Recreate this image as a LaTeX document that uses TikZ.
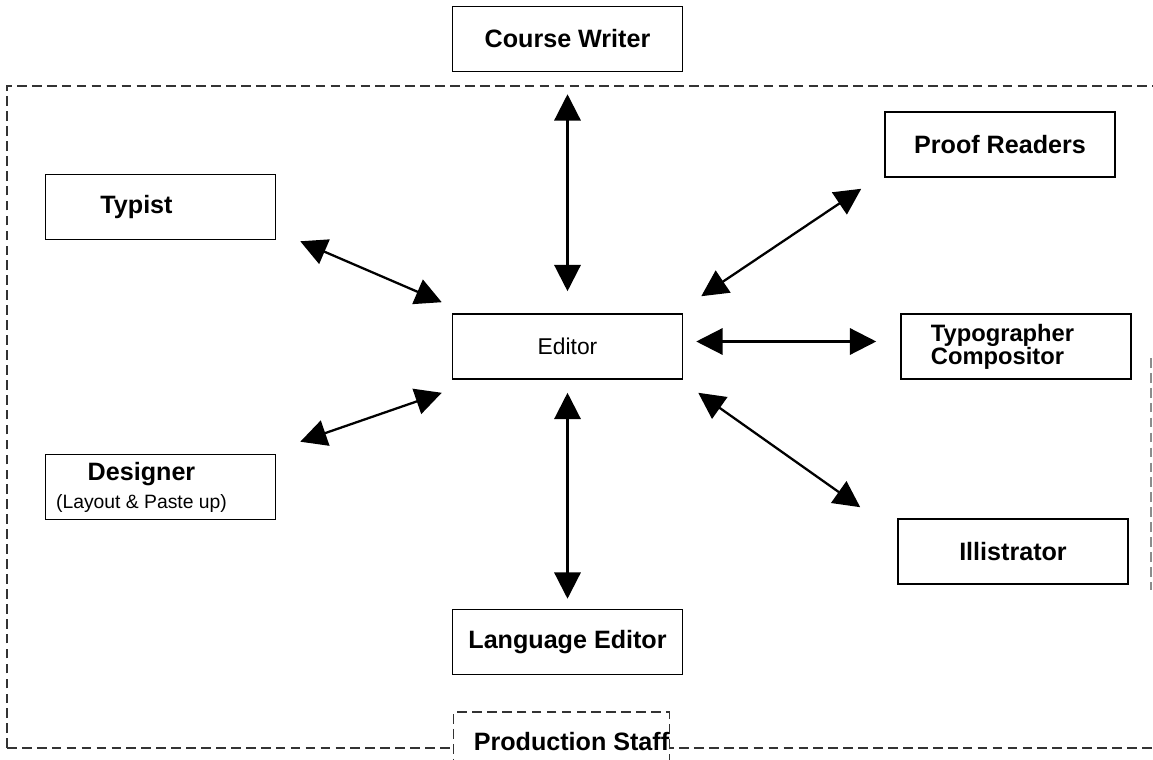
\documentclass[tikz,border=0pt]{standalone}
\usepackage{fontspec}
\setmainfont{Liberation Sans}
\usepackage{tikz}
\usetikzlibrary{positioning}
\usetikzlibrary{arrows.meta, calc}

\begin{document}
\begin{tikzpicture}[x=0.02cm,y=-0.02cm,
    box/.style = {draw, line width=0.9pt, minimum width=4.6cm, minimum height=1.3cm, font=\bfseries\fontsize{14.3}{15}\selectfont},
    arr/.style = {{Triangle[length=15pt,width=15pt]}-{Triangle[length=15pt,width=15pt]}, line width=1.3pt},
    frame/.style = {draw=black!80, dash pattern=on 5.5pt off 3pt, line width=0.6pt},
    node distance=2cm and 4cm]
        \useasboundingbox (0,0) rectangle (1153,760);
        % dashed frame of the production staff
        \draw[frame] (7,748) -- (7,86) -- (1153,86);
        \draw[frame] (7,748) -- (1153,748);
        \draw[frame, draw=black!45] (1151,358) -- (1151,590);
        \node[box, font=\fontsize{13}{15}\selectfont] (editor) at (567.5,346.5) {Editor};
        \node[box, above=4.82cm of editor] (cw) {Course Writer};
        \node[box, below=4.58cm of editor] (lang) {Language Editor};
        \node[box, right=4.34cm of editor, align=left, font=\bfseries\fontsize{13.5}{13}\selectfont] (typo) {Typographer\hspace*{0.54cm}\\Compositor};
        \node[box] (proof) at (1000,144.5) {Proof Readers};
        \node[box] (illus) at (1013,551.5) {Illistrator};
        \node[box] (typist) at (160.5,207) {Typist\hspace*{0.96cm}};
        \node[box, align=center] (designer) at (160.5,487) {Designer\hspace*{0.76cm}\\[1pt]{\mdseries\fontsize{11}{12}\selectfont (Layout \& Paste up)}\hspace*{0.76cm}};
        \node[box, frame, fill=white, inner xsep=0pt, minimum width=4.3cm, minimum height=1.2cm] (prod) at (561.5,742) {\hspace*{0.4cm}Production Staff};
        \draw[arr] ($(cw.south)+(0,22)$) -- ($(editor.north)+(0,-22)$);
        \draw[arr] ($(editor.south)+(0,13)$) -- ($(lang.north)+(0,-10)$);
        \draw[arr] ($(editor.east)+(13,-5)$) -- ($(typo.west)+(-24,-5)$);
        \draw[arr] ($(editor.north east)+(18,-17)$) -- ($(proof.south west)+(-23,11)$);
        \draw[arr] ($(editor.south east)+(15,13)$) -- ($(illus.north west)+(-37,-11)$);
        \draw[arr] ($(typist.south east)+(24,1)$) -- ($(editor.north west)+(-10,-11)$);
        \draw[arr] ($(designer.north east)+(24,-12)$) -- ($(editor.south west)+(-10,13)$);
      \end{tikzpicture}
\end{document}
